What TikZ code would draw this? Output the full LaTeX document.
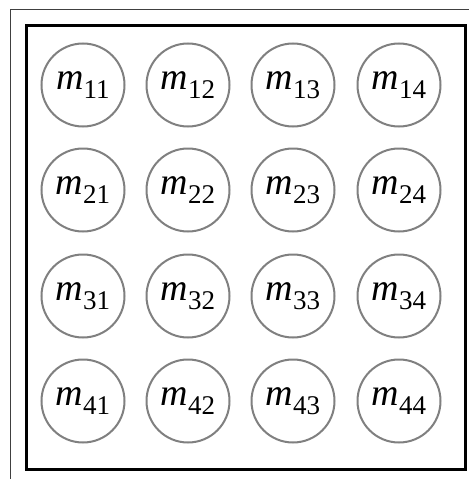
\documentclass[tikz,border=0pt]{standalone}
\usepackage{fontspec}
\setmainfont{Liberation Serif}
\begin{document}
\begin{tikzpicture}[x=1pt,y=-1pt,
  cell/.style={circle,draw=black!50,line width=2pt,minimum size=83pt,inner sep=0pt,fill=white},
  frameline/.style={draw=black!75,line width=1pt},
  boxline/.style={draw=black,line width=3pt}]
\useasboundingbox (0,0) rectangle (469,479);
\fill[white] (0,0) rectangle (469,479);
\draw[frameline] (10.5,479) -- (10.5,9) -- (469,9);
\draw[boxline] (26,25) rectangle (465,469);
\newcommand{\mlab}[1]{{\fontsize{38}{38}\selectfont\textit{m}}\raisebox{-9pt}{\fontsize{27}{27}\selectfont #1}}
\foreach \r/\y in {1/85,2/190,3/296,4/401}{
  \foreach \c/\x in {1/83,2/188,3/293,4/399}{
    \node[cell] (c\r\c) at (\x,\y) {\mlab{\r\c}};
  }
}
\end{tikzpicture}
\end{document}
